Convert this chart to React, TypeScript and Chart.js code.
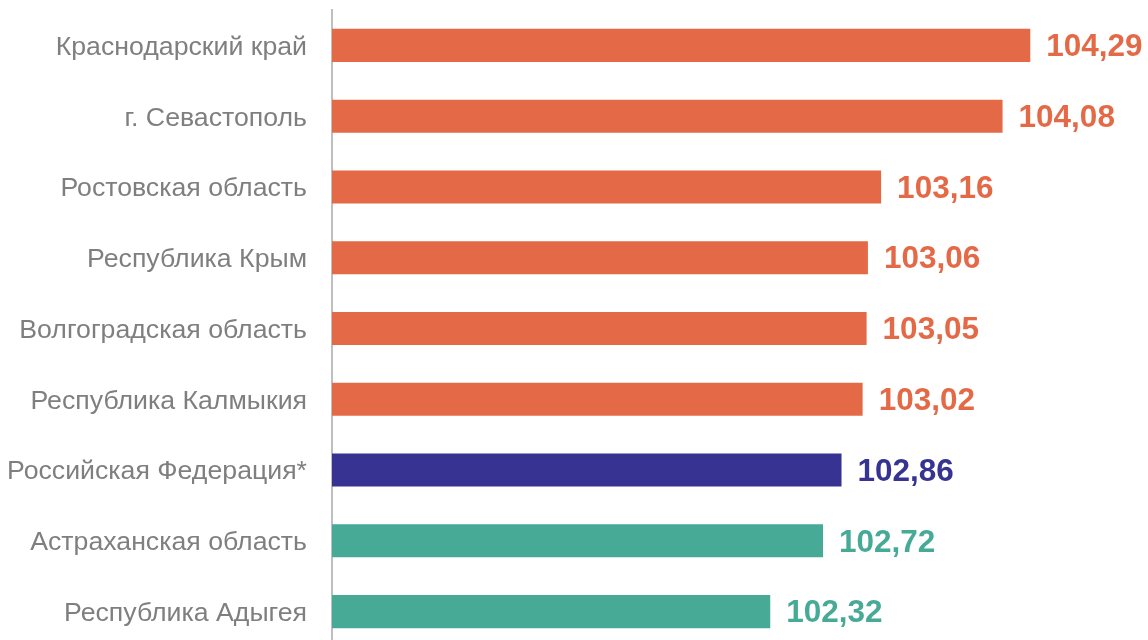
import React, { useEffect, useRef } from "react";
import { Chart, registerables } from "chart.js";

Chart.register(...registerables);

const categories: string[] = [
  "Краснодарский край",
  "г. Севастополь",
  "Ростовская область",
  "Республика Крым",
  "Волгоградская область",
  "Республика Калмыкия",
  "Российская Федерация*",
  "Астраханская область",
  "Республика Адыгея",
];

const values: number[] = [104.29, 104.08, 103.16, 103.06, 103.05, 103.02, 102.86, 102.72, 102.32];

const ORANGE = "#E46A47";
const NAVY = "#373393";
const TEAL = "#46AA97";

const barColors: string[] = [ORANGE, ORANGE, ORANGE, ORANGE, ORANGE, ORANGE, NAVY, TEAL, TEAL];

const axisMin = 99;
const axisMax = 105;

const valueLabelPlugin = {
  id: "valueLabels",
  afterDatasetsDraw(chart: any) {
    const ctx = chart.ctx;
    const meta = chart.getDatasetMeta(0);
    ctx.save();
    ctx.font = "bold 31.5px 'Liberation Sans', Arial, sans-serif";
    ctx.textAlign = "left";
    ctx.textBaseline = "middle";
    meta.data.forEach((bar: any, i: number) => {
      ctx.fillStyle = barColors[i];
      const txt = values[i].toFixed(2).replace(".", ",");
      ctx.fillText(txt, bar.x + 16, bar.y + 2);
    });
    ctx.restore();
  },
};

export default function App() {
  const canvasRef = useRef<HTMLCanvasElement | null>(null);

  useEffect(() => {
    if (!canvasRef.current) return;
    const chart = new Chart(canvasRef.current, {
      type: "bar",
      data: {
        labels: categories,
        datasets: [
          {
            data: values,
            backgroundColor: barColors,
            borderWidth: 0,
            barPercentage: 0.467,
            categoryPercentage: 1,
          },
        ],
      },
      options: {
        indexAxis: "y",
        animation: false,
        responsive: false,
        layout: { padding: { top: 10, right: 24, bottom: 1, left: 0 } },
        plugins: {
          legend: { display: false },
          tooltip: { enabled: false },
        },
        scales: {
          x: {
            display: false,
            min: axisMin,
            max: axisMax,
          },
          y: {
            afterFit: (scale: any) => {
              scale.width = 332;
              scale.paddingTop = 0;
              scale.paddingBottom = 0;
            },
            grid: { display: false },
            border: { display: true, color: "#BFBFBF", width: 2 },
            ticks: {
              padding: 17,
              labelOffset: 2,
              color: "#7F7F7F",
              font: { family: "'Liberation Sans', Arial, sans-serif", size: 26.7 },
            },
          },
        },
      },
      plugins: [valueLabelPlugin],
    });
    return () => chart.destroy();
  }, []);

  return (
    <div style={{ position: "absolute", left: 0, top: 0, width: 1148, height: 648 }}>
      <canvas ref={canvasRef} width={1148} height={648} style={{ display: "block" }} />
    </div>
  );
}
